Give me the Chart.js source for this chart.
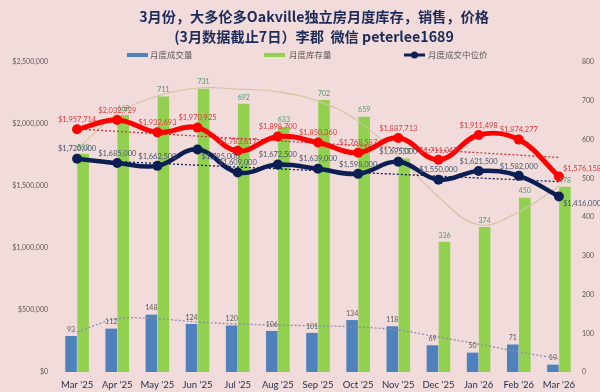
<!DOCTYPE html>
<html><head><meta charset="utf-8">
<script src="https://cdn.jsdelivr.net/npm/chart.js@4.4.1/dist/chart.umd.min.js"></script>
<style>html,body{margin:0;padding:0;background:#f2dcdb;overflow:hidden}#wrap{width:600px;height:392px}</style>
</head><body><div id="wrap"><canvas id="c" width="600" height="392"></canvas></div>
<script>
const categories = ["Mar '25","Apr '25","May '25","Jun '25","Jul '25","Aug '25","Sep '25","Oct '25","Nov '25","Dec '25","Jan '26","Feb '26","Mar '26"];
const salesVolume = [93,112,148,124,120,106,101,134,118,69,50,71,19];
const inventory = [563,663,711,731,692,633,702,659,551,336,374,450,478];
const avgPrice = [1957714,2032729,1932693,1970925,1783617,1898700,1850360,1768587,1887713,1711047,1911498,1874277,1576158];
const medianPrice = [1720000,1685000,1662500,1795000,1609000,1672500,1639000,1598000,1695000,1550000,1621500,1582000,1416000];
// trendlines
const salesTrend = [103,137,137,129,124,121,119,116,108,90,72,52,34];
const inventoryTrend = [575,666,712,733,730,723,699,648,557,452,380,413,480];
const avgPriceTrend = [1960000,null,null,null,null,null,null,null,null,null,null,null,1730000];
const medianPriceTrend = [1712000,null,null,null,null,null,null,null,null,null,null,null,1535000];
const leftTicks = [0,500000,1000000,1500000,2000000,2500000];
const rightTicks = [0,100,200,300,400,500,600,700,800];
const titleLines = ["3月份，大多伦多Oakville独立房月度库存，销售，价格","(3月数据截止7日）李郡  微信 peterlee1689"];
const legendLabels = ["月度成交量","月度库存量","月度成交中位价"];

const C = {bg:'#f2dcdb',blue:'#4f81bd',green:'#92d050',red:'#ff0000',navy:'#0c1f55',title:'#1c2a58'};
const money = v => '$' + v.toLocaleString('en-US');
const FONT = 'Lato, "Noto Sans CJK SC", sans-serif';

const bgPlugin = {id:'bg',beforeDraw(ch){const c=ch.ctx;c.save();c.fillStyle=C.bg;c.fillRect(0,0,ch.width,ch.height);c.restore();}};

const decorPlugin = {id:'decor',afterDraw(ch){
  const c=ch.ctx;c.save();
  c.fillStyle=C.title;c.textAlign='center';c.textBaseline='middle';
  c.font='bold 14.2px "Noto Sans CJK SC", Lato, sans-serif';
  c.fillText(titleLines[0],314,17);
  c.fillText(titleLines[1],314,37);
  c.font='8.5px "Noto Sans CJK SC", sans-serif';c.textAlign='left';
  const ly=55;
  c.fillStyle=C.blue;c.fillRect(127,ly-2,21,4);
  c.fillStyle='#595959';c.fillText(legendLabels[0],150,ly);
  c.fillStyle=C.green;c.fillRect(264,ly-2,21,4);
  c.fillStyle='#595959';c.fillText(legendLabels[1],289,ly);
  c.strokeStyle=C.navy;c.lineWidth=3;c.beginPath();c.moveTo(404,ly);c.lineTo(425,ly);c.stroke();
  c.fillStyle=C.navy;c.beginPath();c.arc(414.5,ly,3.5,0,Math.PI*2);c.fill();
  c.fillStyle='#595959';c.fillText(legendLabels[2],428,ly);
  c.restore();
}};

const labelPlugin = {id:'valueLabels',afterDatasetsDraw(ch){
  const c=ch.ctx;
  ch.data.datasets.forEach((ds,di)=>{
    const cfg=ds.valueLabel; if(!cfg) return;
    const meta=ch.getDatasetMeta(di);
    c.save();c.font=cfg.font;c.fillStyle=cfg.color;
    meta.data.forEach((el,i)=>{
      const v=ds.data[i]; if(v==null) return;
      const t=cfg.fmt(v);
      const p=(cfg.place&&cfg.place[i])||'above';
      if(p==='above'){c.textAlign='center';c.textBaseline='bottom';c.fillText(t,el.x,el.y-cfg.off);}
      else if(p==='rightUp'){c.textAlign='left';c.textBaseline='middle';c.fillText(t,el.x+4,el.y-8);}
      else if(p==='rightDown'){c.textAlign='left';c.textBaseline='middle';c.fillText(t,el.x+4,el.y+7);}
    });
    c.restore();
  });
}};

new Chart(document.getElementById('c'),{
  data:{labels:categories,datasets:[
    {type:'line',label:'medianTrend',data:medianPriceTrend,yAxisID:'y',borderColor:C.navy,borderWidth:1.3,borderDash:[2,2],pointRadius:0,spanGaps:true,order:4},
    {type:'line',label:'avgTrend',data:avgPriceTrend,yAxisID:'y',borderColor:'#d0303a',borderWidth:1.3,borderDash:[2,2],pointRadius:0,spanGaps:true,order:4},
    {type:'line',label:'salesTrend',data:salesTrend,yAxisID:'y1',borderColor:'#8c8ca8',borderWidth:1.3,borderDash:[2,2],pointRadius:0,tension:0.4,order:4},
    {type:'line',label:'invTrend',data:inventoryTrend,yAxisID:'y1',borderColor:'#d0c49c',borderWidth:1.1,pointRadius:0,tension:0.4,order:4},
    {type:'bar',label:legendLabels[0],data:salesVolume,yAxisID:'y1',backgroundColor:C.blue,categoryPercentage:0.6,barPercentage:0.96,order:10,
      valueLabel:{font:'7px Lato, sans-serif',color:'#595959',fmt:v=>String(v),off:3}},
    {type:'bar',label:legendLabels[1],data:inventory,yAxisID:'y1',backgroundColor:C.green,categoryPercentage:0.6,barPercentage:0.96,order:10,
      valueLabel:{font:'7px Lato, sans-serif',color:'#4c9a6a',fmt:v=>String(v),off:3}},
    {type:'line',label:'均价',data:avgPrice,yAxisID:'y',borderColor:C.red,backgroundColor:C.red,borderWidth:5,pointRadius:5,pointBackgroundColor:C.red,pointBorderWidth:0,tension:0.4,order:2,
      valueLabel:{font:'7.5px Lato, sans-serif',color:'#e0383e',fmt:money,off:6,place:{12:'rightUp'}}},
    {type:'line',label:legendLabels[2],data:medianPrice,yAxisID:'y',borderColor:C.navy,backgroundColor:C.navy,borderWidth:4.5,pointRadius:5,pointBackgroundColor:C.navy,pointBorderWidth:0,tension:0.4,order:1,
      valueLabel:{font:'7.5px Lato, sans-serif',color:'#44546a',fmt:money,off:6,place:{3:'rightDown',12:'rightDown'}}}
  ]},
  options:{responsive:false,devicePixelRatio:1,animation:false,
    layout:{padding:{top:62,left:0,right:0,bottom:0}},
    plugins:{legend:{display:false},title:{display:false},tooltip:{enabled:false}},
    scales:{
      x:{grid:{display:false,drawTicks:false},border:{display:false},
         ticks:{font:{family:FONT,size:9.5},color:'#1f2d4a',padding:7,maxRotation:0,autoSkip:false},
         afterFit(s){s.height=20;}},
      y:{position:'left',min:0,max:2500000,grid:{display:false,drawTicks:false},border:{display:false},
         afterBuildTicks(s){s.ticks=leftTicks.map(v=>({value:v}));},
         ticks:{font:{family:FONT,size:7},color:'#595959',padding:9,callback:v=>money(v)},
         afterFit(s){s.width=57;}},
      y1:{position:'right',min:0,max:800,grid:{display:false,drawTicks:false},border:{display:false},
         afterBuildTicks(s){s.ticks=rightTicks.map(v=>({value:v}));},
         ticks:{font:{family:FONT,size:7},color:'#595959',padding:3},
         afterFit(s){s.width=21;}}
    }
  },
  plugins:[bgPlugin,labelPlugin,decorPlugin]
});
</script></body></html>
